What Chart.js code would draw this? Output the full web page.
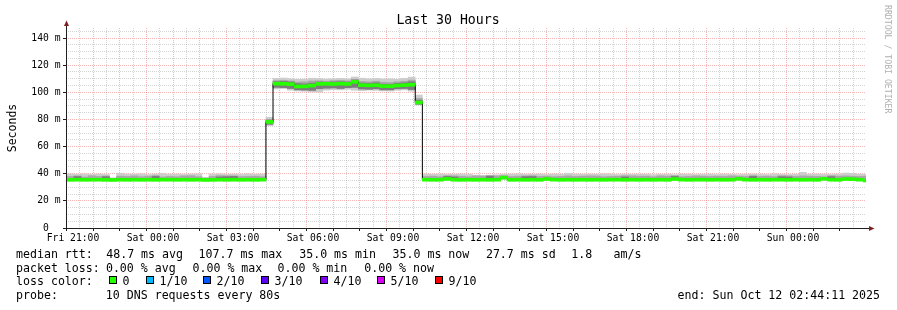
<!DOCTYPE html>
<html>
<head>
<meta charset="utf-8">
<script src="https://cdn.jsdelivr.net/npm/chart.js@4/dist/chart.umd.min.js"></script>
<style>
  html, body { margin: 0; padding: 0; background: #fff; }
  canvas { display: block; }
</style>
</head>
<body>
<canvas id="graph" width="897" height="310"></canvas>
<script>
// time axis is in hours counted from Fri 00:00
const xStart = 20 + 44 / 60 + 11 / 3600;   // Fri 20:44:11
const xEnd = xStart + 30;                  // Sun 02:44:11
const firstBinHour = 20.5;                 // first 16 min RRD step starts Fri 20:30
const stepHours = 16 / 60;

const labelHours = [21, 24, 27, 30, 33, 36, 39, 42, 45, 48];
const timeLabels = ['Fri 21:00', 'Sat 00:00', 'Sat 03:00', 'Sat 06:00', 'Sat 09:00',
                    'Sat 12:00', 'Sat 15:00', 'Sat 18:00', 'Sat 21:00', 'Sun 00:00'];
const yTickValues = [0, 20, 40, 60, 80, 100, 120, 140];
const yTickLabels = ['0  ', '20 m', '40 m', '60 m', '80 m', '100 m', '120 m', '140 m'];

// median rtt per step (ms)
const medianRtt = [
  35.6, 35.5, 35.6, 35.5, 35.6, 35.6, 35.5, 35.4, 35.6, 35.5,
  35.6, 35.5, 35.6, 35.5, 35.6, 35.6, 35.5, 35.6, 35.5, 35.6,
  35.4, 35.5, 35.6, 35.5, 35.6, 35.5, 35.6, 35.5, 35.6, 78.2,
  106.4, 106.3, 106.0, 104.3, 104.4, 105.0, 106.2, 106.3, 106.1, 106.4,
  106.2, 107.7, 105.3, 105.1, 105.2, 104.6, 104.5, 105.0, 105.3, 105.6,
  92.5, 35.6, 35.5, 35.6, 36.2, 35.6, 35.5, 35.6, 35.5, 35.6,
  35.5, 35.6, 37.1, 35.5, 35.6, 35.5, 35.6, 35.5, 36.1, 35.6,
  35.5, 35.6, 35.5, 35.6, 35.5, 35.6, 35.5, 35.6, 35.6, 35.5,
  35.6, 35.5, 35.6, 35.5, 35.6, 35.5, 36.1, 35.6, 35.5, 35.6,
  35.6, 35.5, 35.6, 35.5, 35.6, 36.2, 35.6, 35.5, 35.6, 35.5,
  35.6, 35.6, 35.5, 35.6, 35.5, 35.6, 35.5, 36.2, 35.6, 35.5,
  36.1, 36.0, 35.6, 35.0
];

// smoke: fastest and slowest of the 10 pings
const smokeMin = [
  35.0, 35.0, 35.0, 35.0, 35.0, 35.0, 35.0, 34.9, 35.0, 35.0,
  35.0, 35.0, 35.0, 35.0, 35.0, 35.0, 35.0, 35.0, 35.0, 35.0,
  34.9, 35.0, 35.0, 35.0, 35.0, 35.0, 35.0, 35.0, 35.0, 75.4,
  102.5, 102.8, 101.5, 101.0, 100.8, 100.3, 100.2, 101.6, 102.0, 101.8,
  102.2, 101.5, 101.2, 101.6, 101.4, 101.0, 100.9, 101.5, 101.8, 100.8,
  90.8, 35.0, 35.0, 35.0, 35.5, 35.0, 35.0, 35.0, 35.0, 35.0,
  35.0, 35.0, 35.8, 35.0, 35.0, 35.0, 35.0, 35.0, 35.4, 35.0,
  35.0, 35.0, 35.0, 35.0, 35.0, 35.0, 35.0, 35.0, 35.0, 35.0,
  35.0, 35.0, 35.0, 35.0, 35.0, 35.0, 35.4, 35.0, 35.0, 35.0,
  35.0, 35.0, 35.0, 35.0, 35.0, 35.5, 35.0, 35.0, 35.0, 35.0,
  35.0, 35.0, 35.0, 35.0, 35.0, 35.0, 35.0, 35.5, 35.0, 35.0,
  35.4, 35.3, 35.0, 34.6
];
const smokeMax = [
  39.8, 40.0, 39.6, 40.0, 39.5, 39.8, 39.5, 37.0, 40.4, 39.6,
  39.8, 40.0, 39.4, 39.8, 40.2, 39.6, 39.8, 39.5, 39.8, 40.0,
  37.2, 39.8, 40.0, 39.6, 39.8, 39.5, 40.0, 39.7, 39.8, 81.6,
  110.3, 110.5, 110.0, 109.6, 109.8, 110.4, 110.2, 109.8, 110.0, 110.3,
  110.0, 111.3, 110.4, 110.0, 110.2, 109.8, 110.0, 109.6, 110.3, 111.2,
  98.0, 39.8, 39.6, 39.8, 39.5, 39.6, 39.8, 39.6, 39.0, 38.8,
  39.0, 39.2, 39.6, 39.8, 40.0, 39.5, 39.6, 39.8, 39.5, 39.8,
  39.6, 40.3, 39.8, 39.6, 39.8, 39.6, 40.0, 39.9, 39.4, 39.6,
  39.5, 39.6, 39.6, 39.3, 39.5, 39.6, 39.3, 39.8, 39.6, 39.4,
  39.5, 39.6, 39.4, 39.8, 39.5, 39.4, 39.6, 39.8, 39.5, 39.4,
  40.0, 39.5, 39.4, 39.6, 41.0, 39.6, 39.8, 39.6, 39.4, 39.6,
  40.5, 40.3, 39.6, 39.5
];
// inner part of the smoke (2nd..9th ping)
const smokeMidLo = [
  35.3, 35.3, 35.3, 35.3, 35.3, 35.3, 35.3, 35.2, 35.3, 35.3,
  35.3, 35.3, 35.3, 35.3, 35.3, 35.3, 35.3, 35.3, 35.3, 35.3,
  35.2, 35.3, 35.3, 35.3, 35.3, 35.3, 35.3, 35.3, 35.3, 76.8,
  104.2, 104.0, 103.4, 102.4, 102.2, 102.0, 103.0, 103.4, 103.6, 103.2,
  103.8, 104.0, 102.8, 102.6, 103.0, 102.4, 102.2, 103.0, 103.2, 102.6,
  91.5, 35.3, 35.3, 35.3, 35.8, 35.3, 35.3, 35.3, 35.3, 35.3,
  35.3, 35.3, 36.4, 35.3, 35.3, 35.3, 35.3, 35.3, 35.7, 35.3,
  35.3, 35.3, 35.3, 35.3, 35.3, 35.3, 35.3, 35.3, 35.3, 35.3,
  35.3, 35.3, 35.3, 35.3, 35.3, 35.3, 35.7, 35.3, 35.3, 35.3,
  35.3, 35.3, 35.3, 35.3, 35.3, 35.8, 35.3, 35.3, 35.3, 35.3,
  35.3, 35.3, 35.3, 35.3, 35.3, 35.3, 35.3, 35.8, 35.3, 35.3,
  35.7, 35.6, 35.3, 34.8
];
const smokeMidHi = [
  38.2, 38.0, 38.4, 37.6, 38.5, 38.0, 38.3, 36.6, 38.2, 38.0,
  38.4, 37.8, 38.2, 38.6, 37.6, 38.0, 37.8, 38.4, 38.5, 37.8,
  36.8, 38.0, 38.6, 38.5, 38.4, 37.9, 38.0, 38.2, 37.8, 79.8,
  108.6, 108.8, 108.4, 107.6, 107.8, 108.4, 108.5, 108.2, 108.6, 108.8,
  108.4, 109.6, 108.0, 107.8, 108.2, 107.4, 107.2, 107.8, 108.2, 109.0,
  95.5, 38.0, 38.2, 37.8, 38.5, 38.4, 38.0, 37.8, 38.4, 38.2,
  38.6, 38.4, 38.6, 38.0, 38.2, 38.4, 38.5, 38.0, 38.2, 37.8,
  38.0, 38.4, 38.0, 38.2, 38.4, 38.3, 37.8, 38.0, 38.2, 38.5,
  38.4, 38.2, 38.2, 37.8, 38.4, 38.2, 38.6, 37.8, 38.0, 38.4,
  38.2, 38.0, 38.2, 38.0, 38.4, 38.2, 38.0, 38.6, 38.0, 38.2,
  37.9, 38.5, 38.4, 38.0, 38.4, 38.2, 38.0, 37.8, 38.6, 38.2,
  38.4, 38.2, 38.0, 38.2
];
// dense core of the smoke where it shows: [step, low, high]
const smokeCore = [
  [2, 35.6, 37.9], [6, 35.6, 37.8], [13, 35.6, 38.0], [22, 35.6, 37.6], [23, 35.6, 37.8],
  [24, 35.6, 38.0], [29, 76.4, 79.6],
  [30, 103.6, 107.8], [31, 103.4, 108.0], [32, 102.8, 107.6], [33, 101.8, 106.4],
  [34, 101.6, 106.2], [35, 101.4, 106.8], [36, 102.6, 107.6], [37, 103.0, 107.4],
  [38, 103.2, 107.6], [39, 102.8, 107.8], [40, 103.4, 107.6], [41, 103.6, 109.0],
  [42, 102.4, 106.8], [43, 102.2, 106.6], [44, 102.6, 107.0], [45, 101.8, 106.0],
  [46, 101.8, 105.8], [47, 102.6, 106.6], [48, 102.8, 107.0], [49, 102.0, 107.8],
  [50, 91.2, 94.2],
  [54, 36.0, 38.0], [55, 35.6, 37.6], [60, 35.6, 38.2], [65, 35.6, 37.8], [66, 35.6, 37.9],
  [79, 35.6, 37.6], [86, 36.0, 38.0], [97, 35.6, 38.0], [101, 35.6, 37.8], [102, 35.6, 37.6],
  [108, 35.6, 37.8]
];

const lossLabels = ['0', '1/10', '2/10', '3/10', '4/10', '5/10', '9/10'];
const lossColors = ['#26ff00', '#00b8ff', '#0059ff', '#5e00ff', '#7e00ff', '#dd00ff', '#ff0000'];

const MONO = '"DejaVu Sans Mono", monospace';
const MINOR = 'rgba(160,160,160,0.45)';
const MAJOR = 'rgba(235,90,90,0.45)';
const AXIS = '#1f1f1f';
const NONE = 'rgba(0,0,0,0)';

const binX = medianRtt.map((_, i) => firstBinHour + (i + 0.5) * stepHours);
const band = (lo, hi) => binX.map((x, i) => ({ x: x, y: [lo[i], hi[i]] }));

const gridHours = [];
for (let h = 21; h < xEnd; h += 0.5) gridHours.push(h);
const yGrid = [];
for (let v = 0; v < 147; v += 5) yGrid.push(v);

// grid helpers: the scriptable context has no tick for the border pass
const isHour = c => c.tick && c.tick.value % 1 === 0;
const isMajorY = c => c.tick && c.tick.value % 20 === 0;

function smokeBar(label, data, color, order) {
  return {
    type: 'bar', label: label, data: data, backgroundColor: color,
    borderWidth: 0, grouped: false, barPercentage: 1, categoryPercentage: 1, order: order
  };
}

// legend pieces, placed where rrdtool put them
const legendRows = [
  [258.3, [[16, 'median rtt:'], [106.2, '48.7 ms avg'], [198.5, '107.7 ms max'], [299.2, '35.0 ms min'],
           [392.5, '35.0 ms now'], [485.9, '27.7 ms sd'], [571.2, '1.8'], [613.6, 'am/s']]],
  [271.7, [[16, 'packet loss:'], [105.9, '0.00 % avg'], [192.5, '0.00 % max'], [277.5, '0.00 % min'],
           [364.2, '0.00 % now']]],
  [285.0, [[16, 'loss color:']]],
  [298.5, [[16, 'probe:'], [105.8, '10 DNS requests every 80s'], [677.6, 'end: Sun Oct 12 02:44:11 2025']]]
];

const rrdDecor = {
  id: 'rrdDecor',
  afterDraw(chart) {
    const ctx = chart.ctx;
    const a = chart.chartArea;
    ctx.save();

    // axes with arrows
    ctx.strokeStyle = AXIS;
    ctx.lineWidth = 1;
    ctx.beginPath();
    ctx.moveTo(a.left + 0.5, a.bottom + 3);
    ctx.lineTo(a.left + 0.5, 25);
    ctx.moveTo(a.left - 3, a.bottom + 0.5);
    ctx.lineTo(869, a.bottom + 0.5);
    ctx.stroke();
    ctx.fillStyle = '#7f1f1f';
    ctx.beginPath();
    ctx.moveTo(a.left + 0.5, 20.5);
    ctx.lineTo(a.left - 2, 26);
    ctx.lineTo(a.left + 3, 26);
    ctx.closePath();
    ctx.fill();
    ctx.beginPath();
    ctx.moveTo(874.5, a.bottom + 0.5);
    ctx.lineTo(869, a.bottom - 2);
    ctx.lineTo(869, a.bottom + 3);
    ctx.closePath();
    ctx.fill();

    ctx.fillStyle = '#000';
    ctx.textBaseline = 'alphabetic';

    // title
    ctx.font = '13.2px ' + MONO;
    ctx.textAlign = 'center';
    ctx.fillText('Last 30 Hours', 448, 24);

    // vertical label
    ctx.save();
    ctx.translate(15.5, 128);
    ctx.rotate(-Math.PI / 2);
    ctx.font = '11.5px ' + MONO;
    ctx.fillText('Seconds', 0, 0);
    ctx.restore();

    // watermark
    ctx.save();
    ctx.translate(885, 5);
    ctx.rotate(Math.PI / 2);
    ctx.font = '8.2px ' + MONO;
    ctx.textAlign = 'left';
    ctx.fillStyle = '#b0b0b0';
    ctx.fillText('RRDTOOL / TOBI OETIKER', 0, 0);
    ctx.restore();

    // legend block
    ctx.font = '11.6px ' + MONO;
    ctx.textAlign = 'left';
    legendRows.forEach(([y, parts]) => {
      parts.forEach(([x, t]) => ctx.fillText(t, x, y));
    });

    const boxX = [109, 146, 203, 261, 320, 377, 435];
    lossLabels.forEach((t, i) => {
      ctx.fillStyle = lossColors[i];
      ctx.fillRect(boxX[i], 276, 8, 8);
      ctx.strokeStyle = '#000';
      ctx.strokeRect(boxX[i] + 0.5, 276.5, 7, 7);
      ctx.fillStyle = '#000';
      ctx.fillText(t, boxX[i] + 13.5, 285);
    });

    ctx.restore();
  }
};

new Chart(document.getElementById('graph'), {
  type: 'bar',
  data: {
    datasets: [
      smokeBar('smoke', band(smokeMin, smokeMax), '#cdcdcd', 6),
      smokeBar('smoke inner', band(smokeMidLo, smokeMidHi), '#a8a8a8', 5),
      smokeBar('smoke core', smokeCore.map(c => ({ x: binX[c[0]], y: [c[1], c[2]] })), '#7c7c7c', 4),
      {
        type: 'line', label: 'median', order: 3,
        data: binX.map((x, i) => ({ x: x, y: medianRtt[i] })),
        borderColor: '#000', borderWidth: 1, stepped: 'middle', pointRadius: 0, fill: false
      },
      smokeBar('median 0 loss', binX.map((x, i) => ({ x: x, y: [medianRtt[i] - 1.1, medianRtt[i] + 1.1] })), lossColors[0], 2)
    ]
  },
  options: {
    responsive: false,
    animation: false,
    events: [],
    layout: { padding: { left: 0, right: 31, top: 28, bottom: 62 } },
    plugins: {
      legend: { display: false },
      tooltip: { enabled: false },
      title: { display: false }
    },
    scales: {
      x: {
        type: 'linear', offset: false, min: xStart, max: xEnd,
        afterBuildTicks: s => { s.ticks = gridHours.map(v => ({ value: v })); },
        afterFit: s => { s.height = 20; },
        grid: {
          color: c => (isHour(c) ? MAJOR : MINOR),
          tickColor: c => (isHour(c) ? AXIS : NONE),
          tickLength: 3
        },
        border: { display: false, dash: [1, 1] },
        ticks: {
          autoSkip: false, maxRotation: 0, padding: 1.5, color: '#000',
          font: { family: MONO, size: 9.7 },
          callback: v => { const k = labelHours.indexOf(v); return k >= 0 ? timeLabels[k] : ''; }
        }
      },
      y: {
        min: 0, max: 147.4,
        afterBuildTicks: s => { s.ticks = yGrid.map(v => ({ value: v })); },
        afterFit: s => { s.width = 66; },
        grid: {
          color: c => (isMajorY(c) ? MAJOR : MINOR),
          tickColor: c => (isMajorY(c) ? AXIS : NONE),
          tickLength: 3
        },
        border: { display: false, dash: [1, 1] },
        ticks: {
          autoSkip: false, padding: 2.5, color: '#000',
          font: { family: MONO, size: 9.7 },
          callback: v => { const k = yTickValues.indexOf(v); return k >= 0 ? yTickLabels[k] : ''; }
        }
      }
    }
  },
  plugins: [rrdDecor]
});
</script>
</body>
</html>
